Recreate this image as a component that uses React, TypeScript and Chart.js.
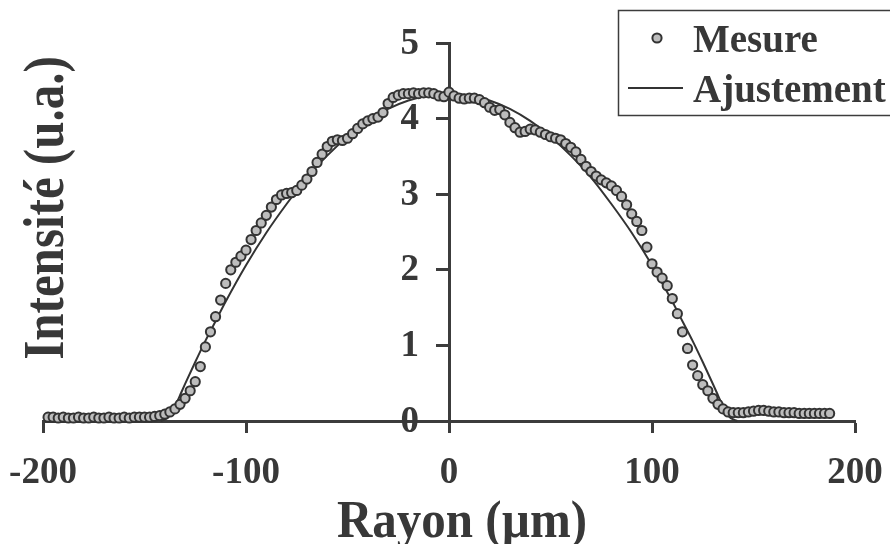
import React, { useEffect, useRef } from "react";
import { Chart, registerables } from "chart.js";

Chart.register(...registerables);

// Measured profile (Mesure): radius in µm, intensity in arbitrary units
const measX = [
  -197.5, -195, -192.5, -190, -187.5, -185, -182.5, -180, -177.5, -175,
  -172.5, -170, -167.5, -165, -162.5, -160, -157.5, -155, -152.5, -150,
  -147.5, -145, -142.5, -140, -137.5, -135, -132.5, -130, -127.5, -125,
  -122.5, -120, -117.5, -115, -112.5, -110, -107.5, -105, -102.5, -100,
  -97.5, -95, -92.5, -90, -87.5, -85, -82.5, -80, -77.5, -75,
  -72.5, -70, -67.5, -65, -62.5, -60, -57.5, -55, -52.5, -50,
  -47.5, -45, -42.5, -40, -37.5, -35, -32.5, -30, -27.5, -25,
  -22.5, -20, -17.5, -15, -12.5, -10, -7.5, -5, -2.5, 0,
  2.5, 5, 7.5, 10, 12.5, 15, 17.5, 20, 22.5, 25,
  27.5, 30, 32.5, 35, 37.5, 40, 42.5, 45, 47.5, 50,
  52.5, 55, 57.5, 60, 62.5, 65, 67.5, 70, 72.5, 75,
  77.5, 80, 82.5, 85, 87.5, 90, 92.5, 95, 97.5, 100,
  102.5, 105, 107.5, 110, 112.5, 115, 117.5, 120, 122.5, 125,
  127.5, 130, 132.5, 135, 137.5, 140, 142.5, 145, 147.5, 150,
  152.5, 155, 157.5, 160, 162.5, 165, 167.5, 170, 172.5, 175,
  177.5, 180, 182.5, 185, 187.5,
];
const measY = [
  0.05, 0.05, 0.04, 0.05, 0.04, 0.04, 0.05, 0.04, 0.04, 0.05,
  0.04, 0.04, 0.05, 0.04, 0.04, 0.05, 0.04, 0.05, 0.05, 0.05,
  0.05, 0.06, 0.07, 0.09, 0.12, 0.16, 0.22, 0.30, 0.40, 0.52,
  0.72, 0.98, 1.18, 1.38, 1.60, 1.82, 2.00, 2.10, 2.18, 2.26,
  2.40, 2.52, 2.62, 2.72, 2.83, 2.93, 2.99, 3.01, 3.02, 3.05,
  3.12, 3.20, 3.30, 3.42, 3.53, 3.63, 3.70, 3.72, 3.71, 3.74,
  3.80, 3.87, 3.93, 3.97, 4.00, 4.02, 4.08, 4.20, 4.28, 4.31,
  4.33, 4.33, 4.34, 4.33, 4.34, 4.34, 4.33, 4.30, 4.29, 4.35,
  4.30, 4.27, 4.26, 4.27, 4.27, 4.25, 4.21, 4.15, 4.11, 4.12,
  4.05, 3.95, 3.88, 3.82, 3.83, 3.86, 3.85, 3.82, 3.79, 3.76,
  3.74, 3.72, 3.67, 3.62, 3.56, 3.46, 3.37, 3.30, 3.24, 3.19,
  3.15, 3.11, 3.05, 2.97, 2.86, 2.74, 2.64, 2.52, 2.30, 2.08,
  1.97, 1.89, 1.79, 1.62, 1.42, 1.18, 0.96, 0.74, 0.60, 0.48,
  0.40, 0.30, 0.22, 0.16, 0.12, 0.11, 0.11, 0.11, 0.12, 0.13,
  0.14, 0.14, 0.13, 0.12, 0.12, 0.11, 0.11, 0.11, 0.10, 0.10,
  0.10, 0.10, 0.10, 0.10, 0.10,
];

// Fitted profile (Ajustement)
const fitX = [
  -142, -140, -138, -136, -134, -132, -130, -125, -120, -115, -110,
  -100, -90, -80, -70, -60, -50, -40, -30, -20, -10, 0,
  10, 20, 30, 40, 50, 60, 70, 80, 90, 100,
  110, 115, 120, 125, 130, 132, 134, 136, 138, 140, 142,
];
const fitY = [
  0.0, 0.02, 0.06, 0.14, 0.25, 0.37, 0.49, 0.78, 1.06, 1.32, 1.58,
  2.06, 2.49, 2.87, 3.22, 3.51, 3.76, 3.97, 4.13, 4.24, 4.31, 4.33,
  4.31, 4.24, 4.13, 3.97, 3.76, 3.51, 3.22, 2.87, 2.49, 2.06,
  1.58, 1.32, 1.06, 0.78, 0.49, 0.37, 0.25, 0.14, 0.06, 0.02, 0.0,
];

const seriesNames = ["Mesure", "Ajustement"];
const xTitle = "Rayon (µm)";
const yTitle = "Intensité (u.a.)";

const FONT = "'Liberation Serif', 'Times New Roman', serif";
const INK = "#383838";
const AXIS = "#3c3c3c";

const overlayPlugin = {
  id: "overlay",
  afterDraw(chart: any) {
    const ctx = chart.ctx as CanvasRenderingContext2D;
    const ds = chart.data.datasets;
    const xs = chart.scales.x;
    const ys = chart.scales.y;
    ctx.save();

    // Y tick labels, left of the axis that crosses at x = 0
    const axisX = xs.getPixelForValue(0);
    ctx.fillStyle = INK;
    ctx.font = `bold 37px ${FONT}`;
    ctx.textAlign = "right";
    ctx.textBaseline = "middle";
    ys.ticks.forEach((t: any) => {
      const py = ys.getPixelForValue(t.value);
      ctx.fillText(String(t.label ?? t.value), axisX - 30, py + 1);
    });

    // Axis titles
    ctx.font = `bold 49px ${FONT}`;
    ctx.textAlign = "center";
    ctx.textBaseline = "alphabetic";
    ctx.save();
    ctx.translate(462, 537);
    ctx.scale(1, 1.06);
    ctx.fillText(xTitle, 0, 0);
    ctx.restore();

    ctx.save();
    ctx.translate(63, 208);
    ctx.rotate(-Math.PI / 2);
    ctx.scale(1, 1.18);
    ctx.fillText(yTitle, 0, 0);
    ctx.restore();

    // Legend box
    ctx.lineWidth = 1.5;
    ctx.strokeStyle = AXIS;
    ctx.strokeRect(618.5, 10.5, 300, 105);

    ctx.beginPath();
    ctx.arc(657, 38, 4.6, 0, Math.PI * 2);
    ctx.fillStyle = ds[0].pointBackgroundColor;
    ctx.fill();
    ctx.lineWidth = ds[0].pointBorderWidth;
    ctx.strokeStyle = ds[0].pointBorderColor;
    ctx.stroke();

    ctx.beginPath();
    ctx.moveTo(628, 88);
    ctx.lineTo(683, 88);
    ctx.lineWidth = ds[1].borderWidth;
    ctx.strokeStyle = ds[1].borderColor;
    ctx.stroke();

    ctx.fillStyle = INK;
    ctx.font = `bold 39px ${FONT}`;
    ctx.textAlign = "left";
    ctx.textBaseline = "alphabetic";
    ctx.fillText(ds[0].label, 693, 52);
    ctx.fillText(ds[1].label, 693, 102);
    ctx.restore();
  },
};

export default function App() {
  const ref = useRef<HTMLCanvasElement | null>(null);

  useEffect(() => {
    if (!ref.current) return;
    const chart = new Chart(ref.current, {
      type: "scatter",
      data: {
        datasets: [
          {
            label: seriesNames[0],
            data: measX.map((x, i) => ({ x, y: measY[i] })),
            showLine: false,
            pointRadius: 4.6,
            pointBackgroundColor: "#bdbdbd",
            pointBorderColor: "#333333",
            pointBorderWidth: 2,
            clip: false,
          } as any,
          {
            label: seriesNames[1],
            data: fitX.map((x, i) => ({ x, y: fitY[i] })),
            showLine: true,
            pointRadius: 0,
            borderColor: "#333333",
            borderWidth: 2,
            cubicInterpolationMode: "monotone",
            clip: false,
          } as any,
        ],
      },
      options: {
        responsive: false,
        maintainAspectRatio: false,
        devicePixelRatio: 1,
        animation: false,
        layout: { padding: { left: 43, right: 35, top: 43, bottom: 0 } },
        plugins: {
          legend: { display: false },
          tooltip: { enabled: false },
          title: { display: false },
        },
        scales: {
          x: {
            type: "linear",
            position: "bottom",
            min: -200,
            max: 200,
            ticks: {
              stepSize: 100,
              color: INK,
              font: { family: FONT, size: 37, weight: "bold" },
              padding: 18,
              maxRotation: 0,
            },
            grid: {
              drawOnChartArea: false,
              drawTicks: true,
              tickLength: 12,
              tickWidth: 3,
              tickColor: AXIS,
            },
            border: { display: true, color: AXIS, width: 3 },
            afterFit: (s: any) => {
              s.height = 123;
              s.paddingLeft = 0;
              s.paddingRight = 0;
            },
          },
          y: {
            type: "linear",
            position: { x: 0 } as any,
            min: 0,
            max: 5,
            ticks: {
              stepSize: 1,
              display: false,
            },
            grid: {
              drawOnChartArea: false,
              drawTicks: true,
              tickLength: 12,
              tickWidth: 3,
              tickColor: AXIS,
            },
            border: { display: true, color: AXIS, width: 3 },
            afterFit: (s: any) => {
              s.paddingTop = 0;
              s.paddingBottom = 0;
            },
          },
        },
      } as any,
      plugins: [overlayPlugin],
    });
    return () => chart.destroy();
  }, []);

  return (
    <div style={{ position: "absolute", left: 0, top: 0, width: 890, height: 544, background: "#fff" }}>
      <canvas ref={ref} width={890} height={544} style={{ display: "block" }} />
    </div>
  );
}
